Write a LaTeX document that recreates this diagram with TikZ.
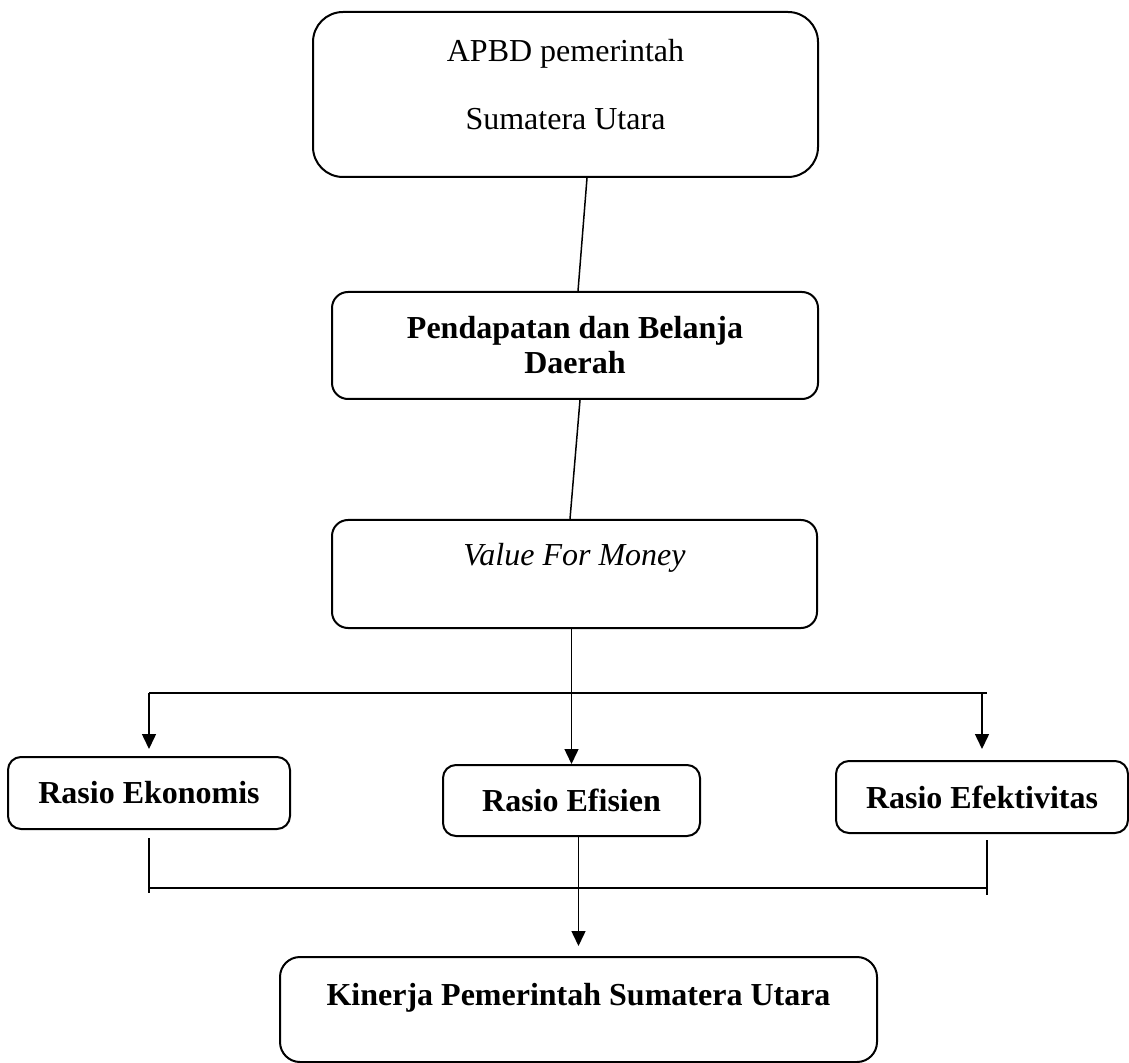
\documentclass[tikz,border=0pt]{standalone}
\usepackage{fontspec}
\setmainfont{Liberation Serif}
\usepackage{tikz}
\usetikzlibrary{calc}
\usetikzlibrary{arrows.meta}
\usetikzlibrary{positioning}

\tikzset{
    roundbox/.style={draw, line width=1pt, inner sep=0pt, align=center,
        font=\fontsize{16pt}{19pt}\selectfont},
    link/.style={line width=0.75pt},
    linkarrow/.style={line width=0.75pt, -{Triangle[length=7.5pt,width=7pt]}}
}

\begin{document}
\begin{tikzpicture}[x=0.5pt, y=-0.5pt]
        \useasboundingbox (0,0) rectangle (1129,1063);

        % Top boxes
        \node[roundbox, rounded corners=15pt, minimum width=252.5pt, minimum height=82.5pt, text depth=10.5pt]
            (apbd) at (565.5,94.5) {APBD pemerintah\\[15pt]Sumatera Utara};
        \node[roundbox, rounded corners=8pt, minimum width=243pt, minimum height=53.5pt, font=\fontsize{16pt}{19pt}\selectfont\bfseries]
            (pad) at (575,345.5) {Pendapatan dan Belanja\\[-1.5pt]Daerah};
        \node[roundbox, rounded corners=8pt, minimum width=242.5pt, minimum height=54pt, text depth=20pt, font=\fontsize{16pt}{19pt}\selectfont\itshape]
            (vfm) at (574.5,574) {Value For Money};

        % Ratio boxes
        \node[roundbox, rounded corners=6.5pt, minimum width=141pt, minimum height=36pt, font=\fontsize{16pt}{19pt}\selectfont\bfseries]
            (ekonomis) at (149,793) {Rasio Ekonomis};
        \node[roundbox, rounded corners=6.5pt, minimum width=128.5pt, minimum height=35.5pt, font=\fontsize{16pt}{19pt}\selectfont\bfseries]
            (efisien) at (571.5,800.5) {Rasio Efisien};
        \node[roundbox, rounded corners=6.5pt, minimum width=146pt, minimum height=36pt, font=\fontsize{16pt}{19pt}\selectfont\bfseries]
            (efektivitas) at (982,797) {Rasio Efektivitas};

        % Result box
        \node[roundbox, rounded corners=10pt, minimum width=298.5pt, minimum height=52.5pt, text depth=15.5pt, font=\fontsize{16pt}{19pt}\selectfont\bfseries]
            (kinerja) at (578.5,1009.5) {Kinerja Pemerintah Sumatera Utara};

        % Branch points
        \coordinate (splitL) at (149,693);
        \coordinate (splitR) at (987,693);
        \coordinate (mergeL) at (149,888);
        \coordinate (mergeR) at (987,888);
        \coordinate (endL) at (149,893);
        \coordinate (endR) at (987,895);

        % Connectors
        \draw[link] ([xshift=10.75pt]apbd.south) -- ([xshift=1.5pt]pad.north);
        \draw[link] ([xshift=2.5pt]pad.south) -- ([xshift=-2.25pt]vfm.north);
        \draw[linkarrow] (efisien.north |- vfm.south) -- (efisien.north);
        \draw[link] (splitL) -- (splitR);
        \draw[linkarrow, shorten >=3.5pt] (splitL) -- (ekonomis.north);
        \draw[linkarrow, shorten >=5.5pt] (efektivitas.north |- splitR) -- (efektivitas.north);
        \draw[link] ([yshift=-4pt]ekonomis.south) -- (endL);
        \draw[link] ([xshift=2.5pt,yshift=-3pt]efektivitas.south) -- (endR);
        \draw[link] (mergeL) -- (mergeR);
        \draw[linkarrow, shorten >=5pt] (kinerja.north |- efisien.south) -- (kinerja.north);

    \end{tikzpicture}
\end{document}
